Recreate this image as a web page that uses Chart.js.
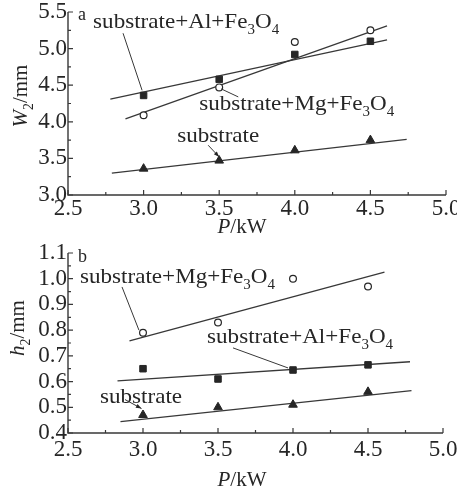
<!DOCTYPE html>
<html>
<head>
<meta charset="utf-8">
<script src="https://cdn.jsdelivr.net/npm/chart.js@4.4.1/dist/chart.umd.min.js"></script>
<style>
    html, body { margin: 0; padding: 0; background: #fff; }
    .panel { position: relative; width: 457px; }
    #panel-a { height: 240px; }
    #panel-b { height: 247px; }
    canvas { display: block; }
</style>
</head>
<body>
<div class="panel" id="panel-a"><canvas id="chart-a"></canvas></div>
<div class="panel" id="panel-b"><canvas id="chart-b"></canvas></div>
<script>
// Laser power P, kW
const powers = [3.0, 3.5, 4.0, 4.5];
const powerTicks = [2.5, 3.0, 3.5, 4.0, 4.5, 5.0];

// (a) width W2, mm
const widthAl = [4.36, 4.58, 4.92, 5.10];
const widthMg = [4.09, 4.47, 5.09, 5.25];
const widthSub = [3.36, 3.47, 3.61, 3.75];
const widthTicks = [3.0, 3.5, 4.0, 4.5, 5.0, 5.5];

// (a) fitted lines: start / end of each line
const fitWidthAlP = [2.78, 4.61];
const fitWidthAl = [4.31, 5.12];
const fitWidthMgP = [2.88, 4.61];
const fitWidthMg = [4.04, 5.31];
const fitWidthSubP = [2.79, 4.74];
const fitWidthSub = [3.30, 3.76];

// (b) height h2, mm
const heightMg = [0.79, 0.83, 1.00, 0.97];
const heightAl = [0.65, 0.61, 0.645, 0.665];
const heightSub = [0.47, 0.50, 0.51, 0.56];
const heightTicks = [0.4, 0.5, 0.6, 0.7, 0.8, 0.9, 1.0, 1.1];

// (b) fitted lines
const fitHeightMgP = [2.91, 4.61];
const fitHeightMg = [0.758, 1.026];
const fitHeightAlP = [2.83, 4.78];
const fitHeightAl = [0.603, 0.677];
const fitHeightSubP = [2.85, 4.79];
const fitHeightSub = [0.444, 0.565];

const ink = '#262626';
const lineInk = '#383838';
const serif = '"Liberation Serif", "Times New Roman", serif';

const pts = (xs, ys) => xs.map((x, i) => ({ x, y: ys[i] }));

// Helper: split "Fe3O4" style text into runs, digits become subscripts
function toParts(text) {
    return text.match(/\d+|\D+/g).map(t => ({ t, sub: /^\d/.test(t) }));
}

// Helper: draw text runs (italic / subscript) starting at x, baseline y
function drawParts(ctx, parts, x, y, size, stretch, align) {
    const fontFor = p => `${p.italic ? 'italic ' : ''}${p.sub ? size * 0.65 : size}px ${serif}`;
    let total = 0;
    parts.forEach(p => { ctx.font = fontFor(p); total += ctx.measureText(p.t).width; });
    ctx.save();
    ctx.translate(x, y);
    ctx.scale(stretch, 1);
    let cx = align === 'center' ? -total / 2 : 0;
    ctx.textBaseline = 'alphabetic';
    ctx.textAlign = 'left';
    parts.forEach(p => {
        ctx.font = fontFor(p);
        ctx.fillText(p.t, cx, p.sub ? size * 0.3 : 0);
        cx += ctx.measureText(p.t).width;
    });
    ctx.restore();
}

// Axis lines plus inward major/minor ticks, drawn from the scales
function drawAxes(chart, cfg) {
    const { ctx, chartArea: a, scales: { x, y } } = chart;
    ctx.save();
    ctx.strokeStyle = lineInk;
    ctx.lineWidth = 1.4;
    ctx.beginPath();
    ctx.moveTo(a.left, a.top);
    ctx.lineTo(a.left, a.bottom);
    ctx.lineTo(a.right, a.bottom);
    ctx.stroke();

    ctx.lineWidth = 1.2;
    ctx.beginPath();
    const nx = Math.round((x.max - x.min) / cfg.xMinor);
    for (let i = 0; i <= nx; i++) {
        const px = x.getPixelForValue(x.min + i * cfg.xMinor);
        const len = i % 2 === 0 ? 5 : 3;
        ctx.moveTo(px, a.bottom);
        ctx.lineTo(px, a.bottom - len);
    }
    const ny = Math.round((y.max - y.min) / cfg.yMinor);
    for (let i = 0; i <= ny; i++) {
        const py = y.getPixelForValue(y.min + i * cfg.yMinor);
        const len = i % 2 === 0 ? 5 : 3;
        ctx.moveTo(a.left, py);
        ctx.lineTo(a.left + len, py);
    }
    ctx.stroke();
    ctx.restore();
}

// Labels with pointer lines, placed in data units
function drawNotes(chart, notes) {
    const { ctx, scales: { x, y } } = chart;
    ctx.save();
    ctx.fillStyle = ink;
    ctx.strokeStyle = lineInk;
    ctx.lineWidth = 1;
    notes.forEach(n => {
        drawParts(ctx, toParts(n.text), x.getPixelForValue(n.p), y.getPixelForValue(n.v), n.size, n.stretch || 1, 'left');
        if (!n.from) return;
        const x1 = x.getPixelForValue(n.from[0]), y1 = y.getPixelForValue(n.from[1]);
        const x2 = x.getPixelForValue(n.to[0]), y2 = y.getPixelForValue(n.to[1]);
        ctx.beginPath();
        ctx.moveTo(x1, y1);
        ctx.lineTo(x2, y2);
        ctx.stroke();
        if (n.arrow) {
            const ang = Math.atan2(y2 - y1, x2 - x1);
            ctx.beginPath();
            ctx.moveTo(x2, y2);
            ctx.lineTo(x2 - 6 * Math.cos(ang - 0.35), y2 - 6 * Math.sin(ang - 0.35));
            ctx.lineTo(x2 - 6 * Math.cos(ang + 0.35), y2 - 6 * Math.sin(ang + 0.35));
            ctx.closePath();
            ctx.fill();
        }
    });
    ctx.restore();
}

function drawTitles(chart, cfg) {
    const { ctx } = chart;
    ctx.save();
    ctx.fillStyle = ink;
    // x title: P/kW
    drawParts(ctx, [{ t: 'P', italic: true }, { t: '/kW' }], cfg.xTitle[0], cfg.xTitle[1], 21, 1, 'center');
    // y title, rotated
    ctx.translate(cfg.yTitle[0], cfg.yTitle[1]);
    ctx.rotate(-Math.PI / 2);
    drawParts(ctx, [{ t: cfg.yName, italic: true }, { t: '2', sub: true }, { t: '/mm' }], 0, 7, 21, 1, 'center');
    ctx.restore();
}

const panelDecor = {
    id: 'panelDecor',
    afterDatasetsDraw(chart, args, opts) {
        drawAxes(chart, opts);
        drawNotes(chart, opts.notes);
        drawTitles(chart, opts);
    }
};

function markerSets(al, mg, sub) {
    return [
        {
            type: 'scatter', data: pts(powers, al), order: 0,
            pointStyle: 'rect', pointRadius: 4.6, backgroundColor: ink, borderColor: ink, borderWidth: 1
        },
        {
            type: 'scatter', data: pts(powers, mg), order: 0,
            pointStyle: 'circle', pointRadius: 3.4, backgroundColor: '#fff', borderColor: ink, borderWidth: 1.2
        },
        {
            type: 'scatter', data: pts(powers, sub), order: 0,
            pointStyle: 'triangle', pointRadius: 5, backgroundColor: ink, borderColor: ink, borderWidth: 1
        }
    ];
}

function fitSet(xs, ys) {
    return {
        type: 'line', data: pts(xs, ys), order: 1,
        borderColor: lineInk, borderWidth: 1.3, pointRadius: 0, fill: false, tension: 0
    };
}

function makeOptions(yTicks, yMin, yMax, pad, xHeight, xPad, decor) {
    return {
        responsive: true,
        maintainAspectRatio: false,
        animation: false,
        layout: { padding: pad },
        plugins: {
            legend: { display: false },
            tooltip: { enabled: false },
            panelDecor: decor
        },
        scales: {
            x: {
                type: 'linear', min: 2.5, max: 5.0,
                afterBuildTicks: s => { s.ticks = powerTicks.map(value => ({ value })); },
                grid: { display: false, drawTicks: false },
                border: { display: false },
                ticks: {
                    color: ink, padding: xPad, maxRotation: 0, autoSkip: false,
                    font: { family: serif, size: 23, lineHeight: 1 },
                    callback: v => v.toFixed(1)
                },
                afterFit: s => { s.height = xHeight; s.paddingLeft = 0; s.paddingRight = 0; }
            },
            y: {
                type: 'linear', min: yMin, max: yMax,
                afterBuildTicks: s => { s.ticks = yTicks.map(value => ({ value })); },
                grid: { display: false, drawTicks: false },
                border: { display: false },
                ticks: {
                    color: ink, padding: 1, autoSkip: false,
                    font: { family: serif, size: 23, lineHeight: 1 },
                    callback: v => v.toFixed(1)
                },
                afterFit: s => { s.width = 68; s.paddingTop = 0; s.paddingBottom = 0; }
            }
        }
    };
}

new Chart(document.getElementById('chart-a'), {
    data: {
        datasets: [
            ...markerSets(widthAl, widthMg, widthSub),
            fitSet(fitWidthAlP, fitWidthAl),
            fitSet(fitWidthMgP, fitWidthMg),
            fitSet(fitWidthSubP, fitWidthSub)
        ]
    },
    options: makeOptions(widthTicks, 3.0, 5.5, { top: 12, right: 11, left: 0, bottom: 0 }, 45, 2, {
        xMinor: 0.25, yMinor: 0.25,
        xTitle: [242, 233], yTitle: [20, 96], yName: 'W',
        notes: [
            { text: 'a', p: 2.566, v: 5.39, size: 18 },
            { text: 'substrate+Al+Fe3O4', p: 2.666, v: 5.28, size: 21, stretch: 1.1, from: [2.864, 5.21], to: [2.99, 4.43] },
            { text: 'substrate+Mg+Fe3O4', p: 3.368, v: 4.16, size: 21, stretch: 1.1, from: [3.513, 4.45], to: [3.626, 4.34] },
            { text: 'substrate', p: 3.222, v: 3.72, size: 21, stretch: 1.1, from: [3.427, 3.68], to: [3.50, 3.52], arrow: true }
        ]
    }),
    plugins: [panelDecor]
});

new Chart(document.getElementById('chart-b'), {
    data: {
        datasets: [
            ...markerSets(heightAl, heightMg, heightSub),
            fitSet(fitHeightMgP, fitHeightMg),
            fitSet(fitHeightAlP, fitHeightAl),
            fitSet(fitHeightSubP, fitHeightSub)
        ]
    },
    options: makeOptions(heightTicks, 0.4, 1.1, { top: 13, right: 14, left: 0, bottom: 0 }, 54, 5, {
        xMinor: 0.25, yMinor: 0.05,
        xTitle: [242, 246], yTitle: [17, 88], yName: 'h',
        notes: [
            { text: 'b', p: 2.567, v: 1.065, size: 18 },
            { text: 'substrate+Mg+Fe3O4', p: 2.58, v: 0.984, size: 21, stretch: 1.1, from: [2.86, 0.968], to: [2.973, 0.80] },
            { text: 'substrate+Al+Fe3O4', p: 3.427, v: 0.75, size: 21, stretch: 1.1, from: [3.60, 0.731], to: [3.967, 0.653] },
            { text: 'substrate', p: 2.713, v: 0.517, size: 21, stretch: 1.1, from: [2.88, 0.53], to: [2.99, 0.495], arrow: true }
        ]
    }),
    plugins: [panelDecor]
});
</script>
</body>
</html>
